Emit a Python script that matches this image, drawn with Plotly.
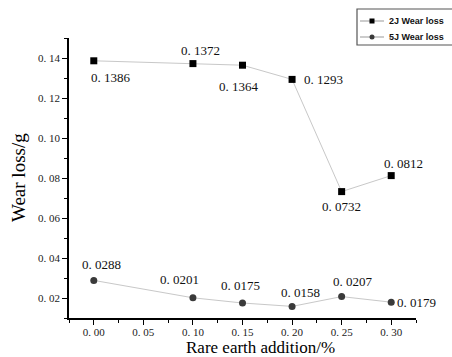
import plotly.graph_objects as go

x_vals = [0.00, 0.10, 0.15, 0.20, 0.25, 0.30]
wear_2j = [0.1386, 0.1372, 0.1364, 0.1293, 0.0732, 0.0812]
wear_5j = [0.0288, 0.0201, 0.0175, 0.0158, 0.0207, 0.0179]
labels_2j = ["0. 1386", "0. 1372", "0. 1364", "0. 1293", "0. 0732", "0. 0812"]
labels_5j = ["0. 0288", "0. 0201", "0. 0175", "0. 0158", "0. 0207", "0. 0179"]
series_names = ["2J Wear loss", "5J Wear loss"]
xtick_vals = [0.00, 0.05, 0.10, 0.15, 0.20, 0.25, 0.30]
xtick_text = ["0. 00", "0. 05", "0. 10", "0. 15", "0. 20", "0. 25", "0. 30"]
ytick_vals = [0.02, 0.04, 0.06, 0.08, 0.10, 0.12, 0.14]
ytick_text = ["0. 02", "0. 04", "0. 06", "0. 08", "0. 10", "0. 12", "0. 14"]
x_title = "Rare earth addition/%"
y_title = "Wear loss/g"

# label offsets in pixels (dx, dy)
off_2j = [(17, -17), (8, 13), (-4, -21), (31, 0), (0, -15), (12, 12)]
off_5j = [(8, 16), (-13, 18), (-2, 18), (8, 14), (11, 15), (25, 0)]

serif = "Liberation Serif"
W, H = 452, 357
L, R, T, B = 69, 36, 38, 39
PW, PH = W - L - R, H - T - B


def px(xp):
    return (xp - L) / PW


def py(yp):
    return 1 - (yp - T) / PH


line_col = "#c8c8c8"
col_2j = "#000000"
col_5j = "#3a3a3a"

fig = go.Figure()
fig.add_trace(go.Scatter(
    x=x_vals, y=wear_2j, mode="lines+markers", name=series_names[0],
    line=dict(color=line_col, width=1),
    marker=dict(symbol="square", size=7, color=col_2j),
))
fig.add_trace(go.Scatter(
    x=x_vals, y=wear_5j, mode="lines+markers", name=series_names[1],
    line=dict(color=line_col, width=1),
    marker=dict(symbol="circle", size=7, color=col_5j),
))

annotations = []
for xs, ys, labs, offs in [(x_vals, wear_2j, labels_2j, off_2j), (x_vals, wear_5j, labels_5j, off_5j)]:
    for xv, yv, lab, (dx, dy) in zip(xs, ys, labs, offs):
        annotations.append(dict(
            x=xv, y=yv, text=lab, showarrow=False, xshift=dx, yshift=dy,
            font=dict(family=serif, size=13, color="#111111"),
            xanchor="center", yanchor="middle",
        ))

# axis titles
annotations.append(dict(
    x=px(260), y=py(347), xref="paper", yref="paper", text=x_title,
    showarrow=False, xanchor="center", yanchor="middle",
    font=dict(family=serif, size=17, color="#000000"),
))
annotations.append(dict(
    x=px(18), y=py(178), xref="paper", yref="paper", text=y_title,
    showarrow=False, xanchor="center", yanchor="middle", textangle=-90,
    font=dict(family=serif, size=19, color="#000000"),
))

# manual legend
shapes = [dict(type="rect", xref="paper", yref="paper",
               x0=px(357), x1=px(456), y0=py(45), y1=py(9),
               line=dict(color="#555555", width=1.2), fillcolor="white")]
leg_rows = [21, 37]
for i, name in enumerate(series_names):
    yy = leg_rows[i]
    shapes.append(dict(type="line", xref="paper", yref="paper",
                       x0=px(360), x1=px(384), y0=py(yy), y1=py(yy),
                       line=dict(color="#999999", width=1)))
    if i == 0:
        shapes.append(dict(type="rect", xref="paper", yref="paper",
                           x0=px(369.5), x1=px(374.5), y0=py(yy + 2.5), y1=py(yy - 2.5),
                           line=dict(width=0), fillcolor=col_2j))
    else:
        shapes.append(dict(type="circle", xref="paper", yref="paper",
                           x0=px(369.5), x1=px(374.5), y0=py(yy + 2.5), y1=py(yy - 2.5),
                           line=dict(width=0), fillcolor=col_5j))
    annotations.append(dict(
        x=px(387), y=py(yy), xref="paper", yref="paper", text="<b>" + name + "</b>",
        showarrow=False, xanchor="left", yanchor="middle",
        font=dict(family="Liberation Sans", size=9, color="#111111"),
    ))

fig.update_layout(
    width=W, height=H,
    margin=dict(l=L, r=R, t=T, b=B),
    paper_bgcolor="white", plot_bgcolor="white",
    annotations=annotations, shapes=shapes,
    showlegend=False,
    xaxis=dict(
        range=[-0.025, 0.325], showgrid=False, zeroline=False, automargin=False,
        showline=True, linecolor="#000000", linewidth=1.5,
        ticks="outside", ticklen=5, tickwidth=1, tickcolor="#000000",
        tickvals=xtick_vals, ticktext=xtick_text, ticklabelstandoff=-2,
        tickfont=dict(family=serif, size=11, color="#222222"),
        minor=dict(ticks="outside", ticklen=3, dtick=0.025, tick0=0, tickcolor="#000000"),
    ),
    yaxis=dict(
        range=[0.01, 0.15], showgrid=False, zeroline=False, automargin=False,
        showline=True, linecolor="#000000", linewidth=1.5,
        ticks="outside", ticklen=5, tickwidth=1, tickcolor="#000000",
        tickvals=ytick_vals, ticktext=ytick_text,
        tickfont=dict(family=serif, size=11, color="#222222"),
        minor=dict(ticks="outside", ticklen=3, dtick=0.01, tick0=0, tickcolor="#000000"),
    ),
)

fig.write_html(
    "out.html",
    config={"displayModeBar": False},
    post_script="document.body.style.margin='0';document.body.style.overflow='hidden';",
)
